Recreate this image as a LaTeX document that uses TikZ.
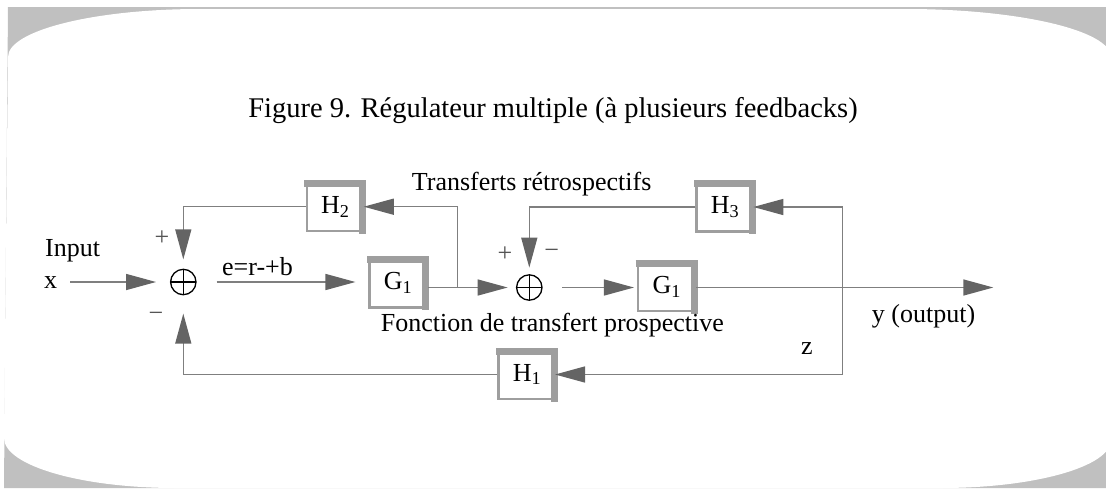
\documentclass[tikz,border=0pt]{standalone}
\usepackage{fontspec}
\setmainfont{Liberation Serif}
\usetikzlibrary{arrows.meta}
\definecolor{bggrey}{HTML}{C0C0C0}
\definecolor{boxgrey}{HTML}{9E9E9E}
\definecolor{wiregrey}{HTML}{7F7F7F}
\definecolor{tipgrey}{HTML}{646464}
\definecolor{signgrey}{HTML}{555555}
\newcommand{\diafont}{\fontsize{26}{30}\selectfont}

\begin{document}
\begin{tikzpicture}[x=1pt,y=-1pt,
  lbl/.style={inner sep=0, anchor=base west, font=\diafont},
  sgn/.style={inner sep=0, anchor=center, font=\diafont, text=signgrey},
  wire/.style={draw=wiregrey, line width=1.4pt},
  arr/.style={wire, -{Triangle[length=30pt,width=16pt,fill=tipgrey,color=tipgrey]}},
  blk/.style={draw=boxgrey, line width=2.5pt, fill=white, minimum width=57pt,
    minimum height=49pt, inner sep=0, font=\diafont},
  sum/.style={circle, draw=black, line width=1.3pt, minimum size=25.4pt, inner sep=0,
    path picture={\draw[line width=1.3pt]
      (path picture bounding box.north) -- (path picture bounding box.south)
      (path picture bounding box.west) -- (path picture bounding box.east);}}]

% page frame: grey sheet with a white panel with elliptical corners
\useasboundingbox (0,0) rectangle (1106,488);
\clip (0,0) rectangle (1106,488);
\fill[bggrey] (8,7) -- (1106,7) -- (1106,488) -- (4,488) -- cycle;
\fill[white] (8,57) .. controls (8,30.5) and (94,9) .. (200,9)
  -- (906,9) .. controls (1019,9) and (1111,30.5) .. (1111,57)
  -- (1111,440) .. controls (1111,466.5) and (1035,488) .. (941,488)
  -- (176,488) .. controls (81,488) and (4,465.6) .. (4,438) -- cycle;

% title
\node[font=\fontsize{28.5}{34}\selectfont, anchor=base, inner sep=0] (title)
  at (553,117) {Figure 9. Régulateur multiple (à plusieurs feedbacks)};

% summing junctions
\node[sum] (s1) at (183.3,282) {};
\node[sum] (s2) at (529.3,287.5) {};

% transfer blocks
\node[blk] (G1a) at (398,283.2) {G\textsubscript{1}};
\node[blk] (G1b) at (666.7,286.7) {G\textsubscript{1}};
\node[blk] (H2) at (335.4,206.7) {H\textsubscript{2}};
\node[blk] (H3) at (725,207) {H\textsubscript{3}};
\node[blk] (H1) at (527,374.5) {H\textsubscript{1}};

% heavy top and right edges of the blocks
\foreach \n in {G1a,G1b,H2,H3,H1}
  \draw[boxgrey, line width=7.2pt, line join=miter]
    ([shift={(-1.25,2.35)}]\n.north west) -- ([shift={(-2.35,2.35)}]\n.north east)
    -- ([shift={(-2.35,1.25)}]\n.south east);

% free ends and branch points
\coordinate (xin) at (70,282);
\coordinate (yout) at (993.3,287.5);
\coordinate (b1) at (457.7,287.5);
\coordinate (b2) at (842.3,287.5);

% forward path
\draw[arr, shorten >=13.9pt] (xin) -- (s1);
\draw[arr, shorten <=20pt, shorten >=12.8pt] (s1.east) -- (s1.east -| G1a.west);
\draw[arr, shorten >=8.3pt] (G1a.east |- s2) -- (s2.west);
\draw[arr, shorten <=19.7pt, shorten >=3pt] (s2.east) -- (s2.east -| G1b.west);
\draw[arr] (G1b.east |- yout) -- (yout);

% feedback paths
\draw[arr, shorten >=-1.4pt] (b1) |- (H2.east);
\draw[arr, shorten >=9.3pt] (H2.west) -| (s1.north);
\draw[arr, shorten >=-1.4pt] (b2) |- (H3.east);
\draw[arr, shorten >=6.5pt] (H3.west) -| (s2.north);
\draw[arr, shorten >=-1.7pt] (b2) |- (H1.east);
\draw[arr, shorten >=18.3pt] (H1.west) -| (s1.south);

% labels
\node[lbl] (tin) at (45,256.7) {Input};
\node[lbl] (tx) at (44,288) {x};
\node[sgn] (p1) at (162,238) {+};
\node[sgn] (m1) at (156,317) {−};
\node[lbl] (te) at (222,275.7) {e=r-+b};
\node[lbl] (ttr) at (411.7,190) {Transferts rétrospectifs};
\node[sgn] (p2) at (505,254) {+};
\node[sgn] (m2) at (551.7,254) {−};
\node[lbl] (tfo) at (380.7,331) {Fonction de transfert prospective};
\node[lbl] (ty) at (871.7,322.6) {y (output)};
\node[lbl] (tz) at (801,354) {z};
\end{tikzpicture}
\end{document}
